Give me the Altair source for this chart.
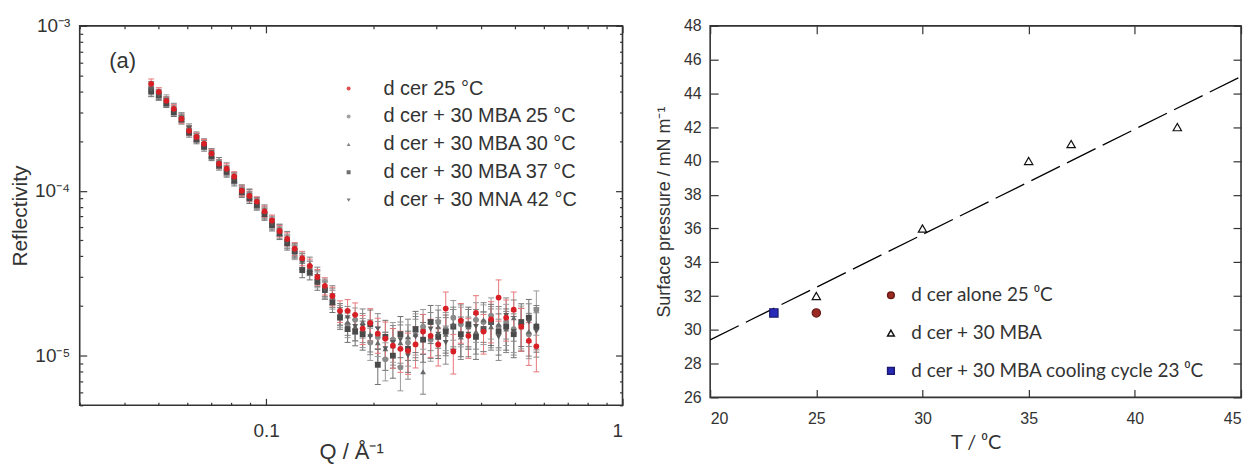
import altair as alt
import pandas as pd

# ---------------- left panel data (reflectivity) ----------------
q_vals = [0.0476, 0.0500, 0.0525, 0.0551, 0.0579, 0.0608, 0.0638, 0.0670, 0.0703, 0.0738,
          0.0775, 0.0814, 0.0855, 0.0898, 0.0942, 0.0990, 0.1039, 0.1091, 0.1146, 0.1203,
          0.1263, 0.1326, 0.1393, 0.1462, 0.1535, 0.1612, 0.1693, 0.1778, 0.1866, 0.1960,
          0.2058, 0.2161, 0.2269, 0.2382, 0.2501, 0.2626, 0.2757, 0.2895, 0.3040, 0.3192,
          0.3352, 0.3519, 0.3695, 0.3880, 0.4074, 0.4278, 0.4491, 0.4716, 0.4952, 0.5199,
          0.5459, 0.5732]

r_dcer25 = [4.45e-4, 3.98e-4, 3.51e-4, 3.14e-4, 2.73e-4, 2.31e-4, 2.12e-4, 1.93e-4, 1.68e-4, 1.46e-4,
            1.36e-4, 1.22e-4, 1.0e-4, 9.3e-5, 8.6e-5, 7.5e-5, 6.6e-5, 5.7e-5, 5.1e-5, 4.45e-5,
            3.9e-5, 3.5e-5, 3.0e-5, 2.65e-5, 2.3e-5, 1.87e-5, 1.87e-5, 1.77e-5, 1.46e-5, 1.58e-5,
            1.36e-5, 1.27e-5, 1.15e-5, 1.1e-5, 1.07e-5, 1.17e-5, 1.4e-5, 1.32e-5, 1.17e-5, 1.93e-5,
            1.06e-5, 1.63e-5, 1.32e-5, 1.82e-5, 1.4e-5, 1.66e-5, 2.25e-5, 1.7e-5, 1.9e-5, 1.5e-5,
            1.23e-5, 1.14e-5]

r_mba25 = [4.2e-4, 3.9e-4, 3.6e-4, 3.1e-4, 2.8e-4, 2.35e-4, 2.15e-4, 1.9e-4, 1.7e-4, 1.5e-4,
           1.33e-4, 1.2e-4, 1.02e-4, 9.6e-5, 8.3e-5, 7.3e-5, 6.4e-5, 5.8e-5, 5.0e-5, 4.2e-5,
           3.8e-5, 3.4e-5, 2.9e-5, 2.55e-5, 2.2e-5, 1.75e-5, 1.55e-5, 1.65e-5, 1.4e-5, 1.2e-5,
           1.3e-5, 9.5e-6, 1.25e-5, 8.5e-6, 1.2e-5, 1.4e-5, 1.5e-5, 1.25e-5, 1.6e-5, 1.45e-5,
           1.7e-5, 1.55e-5, 1.5e-5, 1.65e-5, 1.6e-5, 1.75e-5, 1.5e-5, 1.6e-5, 1.45e-5, 1.55e-5,
           1.35e-5, 1.9e-5]

r_mba30 = [4.3e-4, 3.85e-4, 3.45e-4, 3.2e-4, 2.8e-4, 2.3e-4, 2.1e-4, 1.95e-4, 1.65e-4, 1.5e-4,
           1.38e-4, 1.2e-4, 1.0e-4, 9.5e-5, 8.5e-5, 7.6e-5, 6.5e-5, 5.8e-5, 5.2e-5, 4.4e-5,
           3.8e-5, 3.6e-5, 3.1e-5, 2.6e-5, 2.35e-5, 1.8e-5, 1.6e-5, 1.5e-5, 1.6e-5, 1.35e-5,
           1.2e-5, 1.1e-5, 1.15e-5, 1.2e-5, 1.3e-5, 1.35e-5, 8.0e-6, 1.3e-5, 1.5e-5, 1.35e-5,
           1.55e-5, 1.3e-5, 1.5e-5, 1.4e-5, 1.65e-5, 1.5e-5, 1.55e-5, 1.45e-5, 1.7e-5, 1.5e-5,
           1.4e-5, 1.55e-5]

r_mba37 = [4.0e-4, 3.8e-4, 3.4e-4, 3.0e-4, 2.7e-4, 2.25e-4, 2.05e-4, 1.85e-4, 1.62e-4, 1.42e-4,
           1.3e-4, 1.15e-4, 9.8e-5, 9.0e-5, 8.2e-5, 7.2e-5, 6.2e-5, 5.5e-5, 4.8e-5, 4.3e-5,
           3.3e-5, 3.2e-5, 2.8e-5, 2.5e-5, 2.1e-5, 1.7e-5, 1.45e-5, 1.4e-5, 1.35e-5, 1.55e-5,
           8.8e-6, 1.3e-5, 1.0e-5, 1.35e-5, 1.1e-5, 1.45e-5, 1.25e-5, 1.6e-5, 1.3e-5, 1.4e-5,
           1.5e-5, 1.35e-5, 1.55e-5, 1.3e-5, 1.45e-5, 1.6e-5, 1.4e-5, 1.5e-5, 1.35e-5, 1.6e-5,
           1.7e-5, 1.5e-5]

r_mna42 = [4.1e-4, 3.75e-4, 3.5e-4, 3.05e-4, 2.75e-4, 2.4e-4, 2.1e-4, 1.9e-4, 1.7e-4, 1.45e-4,
           1.32e-4, 1.18e-4, 1.0e-4, 9.2e-5, 8.4e-5, 7.4e-5, 6.3e-5, 5.6e-5, 4.9e-5, 4.3e-5,
           3.7e-5, 3.4e-5, 2.95e-5, 2.5e-5, 2.25e-5, 1.8e-5, 1.7e-5, 1.5e-5, 1.5e-5, 1.3e-5,
           1.45e-5, 1.1e-5, 1.2e-5, 1.25e-5, 1.0e-5, 1.3e-5, 1.4e-5, 1.45e-5, 1.35e-5, 1.2e-5,
           1.5e-5, 1.6e-5, 1.35e-5, 1.5e-5, 1.45e-5, 1.55e-5, 1.3e-5, 1.75e-5, 1.4e-5, 1.5e-5,
           1.6e-5, 1.4e-5]

# relative error bar half-lengths
rel_err = [0.07, 0.06, 0.06, 0.06, 0.06, 0.06, 0.06, 0.06, 0.06, 0.06,
           0.07, 0.07, 0.07, 0.07, 0.07, 0.08, 0.08, 0.08, 0.09, 0.09,
           0.10, 0.10, 0.11, 0.12, 0.13, 0.15, 0.17, 0.18, 0.20, 0.22,
           0.24, 0.26, 0.27, 0.28, 0.28, 0.28, 0.27, 0.26, 0.26, 0.26,
           0.27, 0.27, 0.27, 0.27, 0.27, 0.28, 0.28, 0.28, 0.28, 0.29,
           0.29, 0.30]

left_names = ["d cer 25 °C", "d cer + 30 MBA 25 °C", "d cer + 30 MBA 30 °C",
              "d cer + 30 MBA 37 °C", "d cer + 30 MNA 42 °C"]
left_series = [r_dcer25, r_mba25, r_mba30, r_mba37, r_mna42]
legend_rows = [0, 1, 2, 3, 4]

x_major = [0.1, 1]
x_minor = [0.03, 0.04, 0.05, 0.06, 0.07, 0.08, 0.09, 0.2, 0.3, 0.4, 0.5, 0.6, 0.7, 0.8, 0.9]
y_major = [1e-5, 1e-4, 1e-3]
y_minor = [5e-6, 6e-6, 7e-6, 8e-6, 9e-6, 2e-5, 3e-5, 4e-5, 5e-5, 6e-5, 7e-5, 8e-5, 9e-5,
           2e-4, 3e-4, 4e-4, 5e-4, 6e-4, 7e-4, 8e-4, 9e-4]

# ---------------- right panel data (surface pressure) ----------------
right_names = ["d cer alone 25 \u2070C", "d cer + 30 MBA", "d cer + 30 MBA cooling cycle 23 \u2070C"]
alone_T = [25]
alone_P = [31.0]
mba_T = [25, 30, 35, 37, 42]
mba_P = [32.0, 36.0, 40.0, 41.0, 42.0]
cool_T = [23]
cool_P = [31.0]
fit_T = [20, 45]
fit_P = [29.4, 45.0]
t_ticks = [20, 25, 30, 35, 40, 45]
p_ticks = [26, 28, 30, 32, 34, 36, 38, 40, 42, 44, 46, 48]

for s in left_series:
    assert len(s) == len(q_vals)
assert len(rel_err) == len(q_vals)

# ---------------- styles ----------------
FONT = "Liberation Sans"
TICK_COLOR = "#333"
left_colors = ["#d81f26", "#8a8a8a", "#6a6a6a", "#4a4a4a", "#5a5a5a"]
left_bar_colors = ["#e8767a", "#9a9a9a", "#808080", "#707070", "#888888"]
left_shapes = ["circle", "circle", "triangle-up", "square", "triangle-down"]


def tick_axis(orient, vals, size):
    # inward-pointing ticks only (no labels, no title)
    return alt.Axis(orient=orient, values=vals, labels=False, title=None, domain=False, grid=False,
                    ticks=True, tickSize=size, offset=-size, tickColor=TICK_COLOR, tickWidth=1.2)


def tick_layer(data, xf, yf, xscale, yscale, xvals, yvals, size, xorient, yorient):
    return alt.Chart(data).mark_point(opacity=0).encode(
        x=alt.X(xf, scale=xscale, axis=tick_axis(xorient, xvals, size)),
        y=alt.Y(yf, scale=yscale, axis=tick_axis(yorient, yvals, size)),
    )


rows = []
# draw grey series first, red on top
for idx in [1, 2, 3, 4, 0]:
    name = left_names[idx]
    for qv, rv, ev in zip(q_vals, left_series[idx], rel_err):
        rows.append({"series": name, "Q": qv, "R": rv, "lo": rv * (1 - ev), "hi": rv * (1 + ev)})
ldf = pd.DataFrame(rows)

xs = alt.Scale(type="log", domain=[0.03, 1], nice=False)
ys = alt.Scale(type="log", domain=[5e-6, 1e-3], nice=False)

x_axis = alt.Axis(
    orient="bottom", title="Q / \u00c5\u207b\u00b9", values=x_major,
    labelExpr="datum.value == 0.1 ? '0.1' : '1'",
    ticks=False, tickSize=0,
    grid=False, domain=False, labelFont=FONT, labelFontSize=19, labelColor="#333",
    titleFont=FONT, titleFontSize=22, titleFontWeight="normal", titleColor="#333",
    labelPadding=16, titlePadding=1, labelOverlap=False,
)
y_axis = alt.Axis(
    orient="left", title="Reflectivity", values=y_major,
    labelExpr="datum.value == 0.00001 ? '10\u207b\u2075' : (datum.value == 0.0001 ? '10\u207b\u2074' : '10\u207b\u00b3')",
    ticks=False, tickSize=0,
    grid=False, domain=False, labelFont=FONT, labelFontSize=19, labelColor="#333",
    titleFont=FONT, titleFontSize=21, titleFontWeight="normal", titleColor="#333",
    labelPadding=10, titlePadding=4, labelOverlap=False,
)

color_scale = alt.Scale(domain=left_names, range=left_colors)
shape_scale = alt.Scale(domain=left_names, range=left_shapes)
bar_scale = alt.Scale(domain=left_names, range=left_bar_colors)

bars = alt.Chart(ldf).mark_rule(strokeWidth=1).encode(
    x=alt.X("Q:Q", scale=xs, axis=None),
    y=alt.Y("lo:Q", scale=ys, axis=None),
    y2="hi:Q",
    stroke=alt.Stroke("series:N", scale=bar_scale, legend=None),
)
cap_lo = alt.Chart(ldf).mark_rule(strokeWidth=1, xOffset=-3, x2Offset=3).encode(
    x=alt.X("Q:Q", scale=xs, axis=None), x2="Q:Q",
    y=alt.Y("lo:Q", scale=ys, axis=None),
    stroke=alt.Stroke("series:N", scale=bar_scale, legend=None),
)
cap_hi = alt.Chart(ldf).mark_rule(strokeWidth=1, xOffset=-3, x2Offset=3).encode(
    x=alt.X("Q:Q", scale=xs, axis=None), x2="Q:Q",
    y=alt.Y("hi:Q", scale=ys, axis=None),
    stroke=alt.Stroke("series:N", scale=bar_scale, legend=None),
)
pts = alt.Chart(ldf).mark_point(filled=True, size=34, opacity=1).encode(
    x=alt.X("Q:Q", scale=xs, axis=x_axis),
    y=alt.Y("R:Q", scale=ys, axis=y_axis),
    color=alt.Color("series:N", scale=color_scale, legend=None),
    shape=alt.Shape("series:N", scale=shape_scale, legend=None),
)

annot_q = [0.0363]
annot_r = [6.1e-4]
annot_txt = ["(a)"]
adf = pd.DataFrame({"Q": annot_q, "R": annot_r, "t": annot_txt})
annot = alt.Chart(adf).mark_text(align="left", baseline="middle", font=FONT, fontSize=22, color="#333").encode(
    x=alt.X("Q:Q", scale=xs, axis=None),
    y=alt.Y("R:Q", scale=ys, axis=None),
    text="t:N",
)

lt1 = tick_layer(adf, "Q:Q", "R:Q", xs, ys, x_major, y_major, 7, "bottom", "left")
lt2 = tick_layer(adf, "Q:Q", "R:Q", xs, ys, x_minor, y_minor, 3, "bottom", "left")
lt3 = tick_layer(adf, "Q:Q", "R:Q", xs, ys, x_major, y_major, 7, "top", "right")
lt4 = tick_layer(adf, "Q:Q", "R:Q", xs, ys, x_minor, y_minor, 3, "top", "right")

data_layer = alt.layer(bars, cap_lo, cap_hi, pts, annot, lt1, lt2, lt3, lt4).resolve_axis(
    x="independent", y="independent")

# legend drawn inside the plot (rows mapped through its own scale)
legdf = pd.DataFrame({"series": left_names, "row": legend_rows})
leg_y = alt.Y("row:Q", scale=alt.Scale(domain=[0, 4], range=[63, 175]), axis=None)
leg_pts = alt.Chart(legdf).mark_point(filled=True, size=16, opacity=0.8).encode(
    x=alt.value(270), y=leg_y,
    color=alt.Color("series:N", scale=color_scale, legend=None),
    shape=alt.Shape("series:N", scale=shape_scale, legend=None),
)
leg_txt = alt.Chart(legdf).mark_text(align="left", baseline="middle", font=FONT, fontSize=20, color="#333").encode(
    x=alt.value(305), y=leg_y, text="series:N",
)
legend_layer = alt.layer(leg_pts, leg_txt)

left = alt.layer(data_layer, legend_layer).resolve_scale(y="independent").properties(
    width=545, height=381
)

# ---------------- right chart ----------------
rrows = []
for t, p in zip(alone_T, alone_P):
    rrows.append({"series": right_names[0], "T": t, "P": p})
for t, p in zip(mba_T, mba_P):
    rrows.append({"series": right_names[1], "T": t, "P": p})
for t, p in zip(cool_T, cool_P):
    rrows.append({"series": right_names[2], "T": t, "P": p})
rdf = pd.DataFrame(rrows)
fdf = pd.DataFrame({"T": fit_T, "P": fit_P})

txs = alt.Scale(domain=[20, 45], nice=False)
tys = alt.Scale(domain=[26, 48], nice=False)
RFONT = "Liberation Sans"
LFONT = "Lato"
t_axis = alt.Axis(orient="bottom", title="T / \u2070C", values=t_ticks, format="d",
                  grid=False, domain=False, ticks=False, tickSize=0,
                  labelFont=RFONT, labelFontSize=16, labelColor="#333", labelPadding=13,
                  titleFont=LFONT, titleFontSize=20, titleFontWeight="normal", titleColor="#333",
                  titlePadding=6)
p_axis = alt.Axis(orient="left", title="Surface pressure  / mN m\u207b\u00b9", values=p_ticks, format="d",
                  grid=False, domain=False, ticks=False, tickSize=0,
                  labelFont=RFONT, labelFontSize=16, labelColor="#333", labelPadding=9,
                  titleFont=RFONT, titleFontSize=18, titleFontWeight="normal", titleColor="#333",
                  titlePadding=10)

right_legend = alt.Legend(
    title=None, orient="none", legendX=172, legendY=261,
    labelFont=LFONT, labelFontSize=19, labelColor="#333", labelOffset=11, labelLimit=0,
    symbolSize=45, rowPadding=18, padding=0,
)
rdom = right_names
fit_line = alt.Chart(fdf).mark_line(color="black", strokeWidth=1.3, strokeDash=[32, 8]).encode(
    x=alt.X("T:Q", scale=txs, axis=t_axis),
    y=alt.Y("P:Q", scale=tys, axis=p_axis),
)
rpts = alt.Chart(rdf).mark_point(size=70, strokeWidth=1.2, opacity=1).encode(
    x=alt.X("T:Q", scale=txs, axis=None),
    y=alt.Y("P:Q", scale=tys, axis=None),
    shape=alt.Shape("series:N", scale=alt.Scale(domain=rdom, range=["circle", "triangle-up", "square"]), legend=right_legend),
    fill=alt.Fill("series:N", scale=alt.Scale(domain=rdom, range=["#9b2a22", "#ffffff", "#2a2ab8"]), legend=right_legend),
    stroke=alt.Stroke("series:N", scale=alt.Scale(domain=rdom, range=["#6a1a14", "#111111", "#1a1a70"]), legend=right_legend),
)
rt1 = tick_layer(fdf, "T:Q", "P:Q", txs, tys, t_ticks, p_ticks, 8, "bottom", "left")
rt2 = tick_layer(fdf, "T:Q", "P:Q", txs, tys, t_ticks, p_ticks, 8, "top", "right")
right = alt.layer(fit_line, rpts, rt1, rt2).resolve_axis(x="independent", y="independent").properties(
    width=533, height=373)

chart = alt.hconcat(left, right, spacing=30).resolve_scale(
    color="independent", shape="independent", stroke="independent", fill="independent"
).resolve_legend(color="independent", shape="independent", stroke="independent", fill="independent").properties(
    padding={"left": 0, "top": 7, "right": 0, "bottom": 0}
).configure_view(stroke="#333", strokeWidth=1.6)

chart.save("out.html", embed_options={"renderer": "svg", "actions": False})
